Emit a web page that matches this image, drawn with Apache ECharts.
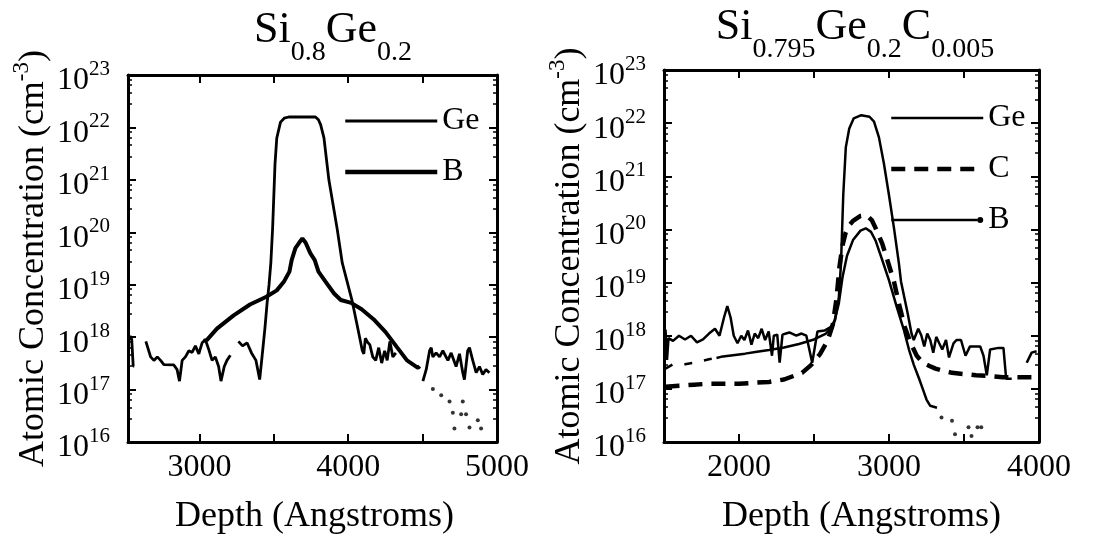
<!DOCTYPE html>
<html><head><meta charset="utf-8">
<script src="https://cdn.jsdelivr.net/npm/echarts@6/dist/echarts.min.js"></script>
<style>html,body{margin:0;padding:0;background:#fff}#c{width:1102px;height:540px}</style>
</head><body><div id="c"></div><script>
// ---------- data (depth in Angstroms, concentration in cm^-3) ----------
const leftXTicks = [3000, 3500, 4000, 4500];
const leftXLabels = [3000, 4000, 5000];
const rightXTicks = [2000, 2500, 3000, 3500];
const rightXLabels = [2000, 3000, 4000];

const geSiGe = [[2527,9e17],[2535,1.05e18],[2545,9e17],[2555,2.8e17],[2562,2.8e17],null,
 [2640,8.3e17],[2672,4.2e17],[2694,3.6e17],[2717,4.2e17],[2739,3.6e17],[2761,3.0e17],[2828,2.95e17],
 [2850,2.4e17],[2866,1.45e17],[2884,3.6e17],[2906,4.2e17],[2929,5.5e17],[2951,5.1e17],[2973,6.8e17],
 [2996,4.8e17],[3018,7.8e17],[3040,8.9e17],[3062,5.9e17],[3085,3.6e17],[3107,4.2e17],[3129,2.75e17],
 [3145,1.45e17],[3167,2.75e17],[3185,3.6e17],[3208,4.5e17],null,
 [3262,8.3e17],[3290,6.8e17],[3320,7.8e17],[3350,5e17],[3380,3.6e17],[3405,1.55e17],[3425,5.5e17],
 [3440,1.45e18],[3455,4.5e18],[3468,1.0e19],[3480,2.6e19],[3492,1.2e20],[3508,2.0e21],[3520,6.3e21],
 [3545,1.26e22],[3570,1.5e22],[3600,1.58e22],[3780,1.58e22],[3800,1.4e22],[3815,1.12e22],[3837,6.3e21],
 [3870,1.0e21],[3925,1.2e20],[3960,2.6e19],[4025,5.1e18],[4065,1.45e18],[4095,5.5e17],[4105,4.8e17],
 [4115,9.5e17],[4130,8e17],[4145,7.2e17],[4165,4.2e17],[4185,3.6e17],[4205,6.3e17],[4225,3.2e17],
 [4245,5.5e17],[4262,3.6e17],[4280,8.3e17],[4300,4.2e17],[4320,5.0e17],null,
 [4502,1.45e17],[4524,2.4e17],[4547,5.5e17],[4558,6.3e17],[4569,4.2e17],[4591,5e17],[4614,4.2e17],
 [4636,5.5e17],[4670,3.6e17],[4692,5e17],[4725,2.75e17],[4748,4.8e17],[4770,2.1e17],[4781,1.55e17],
 [4803,5.5e17],[4815,6.3e17],[4837,3.6e17],[4860,2.1e17],[4882,2.75e17],[4904,1.95e17],[4926,2.4e17],
 [4949,2.1e17]];
const bSiGe = [[3030,8.5e17],[3051,8.9e17],[3118,1.45e18],[3230,2.6e18],[3340,4.2e18],[3450,5.9e18],
 [3520,7.8e18],[3570,1.17e19],[3605,1.78e19],[3620,2.95e19],[3645,5.0e19],[3670,6.3e19],[3692,7.6e19],
 [3714,6.3e19],[3745,4.0e19],[3775,2.95e19],[3800,1.78e19],[3845,1.17e19],[3905,6.8e18],[3950,5.1e18],
 [4020,4.5e18],[4090,3.4e18],[4170,2.2e18],[4250,1.26e18],[4330,6.3e17],[4395,3.6e17],[4469,2.6e17],
 [4480,2.8e17]];
const bSiGeTail = [[4569,1.02e17],[4625,7.8e16],[4681,5.9e16],[4770,5.9e16],[4703,3.6e16],[4759,3.4e16],
 [4792,3.4e16],[4714,1.8e16],[4815,1.9e16],[4871,2.6e16],[4893,1.8e16]];

const geSiGeC = [[1510,1.3e18],[1520,3.5e17],[1530,9e17],[1560,8e17],[1600,1.0e18],[1640,8.5e17],
 [1680,1.0e18],[1720,7.5e17],[1760,8.5e17],[1800,1.1e18],[1840,1.35e18],[1870,1.0e18],[1900,2.2e18],
 [1922,3.6e18],[1944,2.2e18],[1965,1.0e18],[1990,7.2e17],[2015,1.0e18],[2036,8.3e17],[2060,1.25e18],
 [2083,6.8e17],[2105,1.1e18],[2128,9e17],[2151,1.35e18],[2174,8.3e17],[2198,1.2e18],[2220,4.2e17],
 [2232,1.0e18],[2255,1.05e18],[2271,3.1e17],[2290,1.05e18],[2313,1.1e18],[2336,1.15e18],[2382,1.0e18],
 [2417,1.1e18],[2449,1.0e18],[2488,3.1e17],[2523,1.2e18],[2570,1.25e18],[2610,1.45e18],[2640,1.95e18],
 [2665,5e18],[2680,2.3e19],[2695,4.4e20],[2712,3.5e21],[2735,7.9e21],[2765,1.23e22],[2815,1.41e22],
 [2870,1.32e22],[2900,1.07e22],[2933,5.4e21],[2966,1.74e21],[3000,4.4e20],[3033,1.07e20],[3066,2.3e19],
 [3080,1.05e19],[3125,2.6e18],[3150,1.1e18],[3165,8.3e17],[3195,1.35e18],[3215,1.02e18],[3235,6.3e17],
 [3255,1.1e18],[3275,8.3e17],[3295,4.8e17],[3315,9.5e17],[3335,7.2e17],[3355,5.5e17],[3380,8.3e17],
 [3400,3.9e17],[3430,7.2e17],[3450,8.3e17],[3480,8.3e17],[3510,4.2e17],[3540,6.3e17],[3570,6.3e17],
 [3608,6.3e17],[3630,4.2e17],[3652,1.8e17],[3674,5.5e17],[3730,5.9e17],[3763,5.9e17],[3781,1.55e17],
 [3818,1.55e17],null,[3918,3.1e17],[3951,4.8e17],[3984,5.1e17]];
const cSiGeC = [[1510,1.1e17],[1600,1.15e17],[1700,1.2e17],[1800,1.25e17],[1900,1.25e17],[2000,1.25e17],
 [2100,1.3e17],[2200,1.35e17],[2300,1.5e17],[2420,2.0e17],[2480,2.8e17],[2540,4.5e17],[2590,8e17],
 [2625,1.6e18],[2650,5e18],[2670,2e19],[2690,5e19],[2710,8.5e19],[2735,1.2e20],[2760,1.45e20],
 [2810,1.8e20],[2850,1.86e20],[2885,1.5e20],[2910,1.07e20],[2955,5.4e19],[2990,2.6e19],[3033,1.05e19],
 [3066,4e18],[3105,1.45e18],[3145,7.2e17],[3185,4.2e17],[3225,3.1e17],[3270,2.7e17],[3310,2.4e17],
 [3360,2.2e17],[3420,2.0e17],[3500,1.9e17],[3580,1.8e17],[3660,1.75e17],[3760,1.65e17],[3896,1.65e17],
 [3995,1.65e17]];
const bSiGeCLead = [[1510,2.4e17],[1560,2.9e17],[1640,2.9e17],[1720,3.2e17],[1800,3.6e17],[1850,3.8e17]];
const bSiGeC = [[1850,3.8e17],[1880,4.0e17],[1960,4.3e17],[2040,4.6e17],[2120,5.0e17],[2200,5.4e17],
 [2300,6.0e17],[2400,7.0e17],[2500,8.5e17],[2580,1.1e18],[2630,1.6e18],[2665,4e18],[2690,1.26e19],
 [2720,3.2e19],[2760,6.3e19],[2810,9.5e19],[2845,1.05e20],[2880,9e19],[2910,6.2e19],[2956,2.6e19],
 [3000,1.1e19],[3050,3.6e18],[3100,1.26e18],[3133,5.5e17],[3166,2.8e17],[3199,1.6e17],[3225,1.0e17],
 [3250,6.3e16],[3275,4.8e16],[3320,4.4e16]];
const bSiGeCTail = [[3350,2.9e16],[3420,2.5e16],[3440,1.4e16],[3530,1.9e16],[3550,1.3e16],[3590,1.9e16],[3615,1.9e16]];

// ---------- styling ----------
const FONT = '"Liberation Serif","DejaVu Serif",serif';
const K = '#000';
const rich = {
  b: {fontSize: 44, fontFamily: FONT, fontWeight: 'normal', color: K, verticalAlign: 'top', lineHeight: 48},
  s: {fontSize: 28, fontFamily: FONT, fontWeight: 'normal', color: K, verticalAlign: 'top', lineHeight: 28, padding: [31, 0, 0, 0]}
};
const powRich = {
  b: {fontSize: 32, fontFamily: FONT, color: K, verticalAlign: 'top', lineHeight: 32, padding: [6, 0, 0, 0]},
  s: {fontSize: 21, fontFamily: FONT, color: K, verticalAlign: 'top', lineHeight: 21}
};
const nameRich = {
  a: {fontSize: 36, fontFamily: FONT, color: K, verticalAlign: 'top', lineHeight: 38, padding: [6, 0, 0, 0]},
  p: {fontSize: 23, fontFamily: FONT, color: K, verticalAlign: 'top', lineHeight: 23}
};
function powFmt(v) { return '{b|10}{s|' + Math.round(Math.log10(v)) + '}'; }

function xAx(grid, min, max, ticks, labels, top, shift) {
  return {
    type: 'value', gridIndex: grid, min: min, max: max, position: top ? 'top' : 'bottom',
    axisLine: {show: true, onZero: false, lineStyle: {color: K, width: 3}},
    axisTick: {show: true, inside: true, length: 8, customValues: ticks, lineStyle: {color: K, width: 2}},
    axisLabel: top ? {show: false} : {show: true, customValues: labels, formatter: v => String(v),
      fontSize: 32, fontFamily: FONT, color: K, margin: 10},
    splitLine: {show: false},
    name: top ? '' : 'Depth (Angstroms)', nameLocation: 'middle', nameGap: 57,
    nameTextStyle: {fontSize: 36, fontFamily: FONT, color: K, padding: [0, 0, 0, shift || 0]}
  };
}
function yAx(grid, right) {
  return {
    type: 'log', logBase: 10, gridIndex: grid, min: 1e16, max: 1e23, splitNumber: 7,
    position: right ? 'right' : 'left',
    axisLine: {show: true, onZero: false, lineStyle: {color: K, width: 3}},
    axisTick: {show: true, inside: true, length: 8, lineStyle: {color: K, width: 2}},
    minorTick: {show: true, splitNumber: 5, length: 4, lineStyle: {color: K, width: 1.5}},
    axisLabel: right ? {show: false} : {show: true, formatter: powFmt, rich: powRich, margin: 18, align: 'right'},
    splitLine: {show: false}, minorSplitLine: {show: false},
    name: right ? '' : '{a|Atomic Concentration (cm}{p|-3}{a|)}',
    nameLocation: 'middle', nameRotate: 90, nameGap: 80,
    nameTextStyle: {rich: nameRich}
  };
}
function line(name, data, xi, yi, width, type) {
  return {name: name, type: 'line', data: data, xAxisIndex: xi, yAxisIndex: yi, symbol: 'none',
    connectNulls: false, animation: false, lineStyle: {color: K, width: width, type: type || 'solid'},
    itemStyle: {color: K}};
}
const hideSym = {opacity: 0};
const legendText = {fontSize: 32, fontFamily: FONT, color: K};

const option = {
  backgroundColor: '#fff',
  animation: false,
  title: [
    {text: '{b|Si}{s|0.8}{b|Ge}{s|0.2}', left: 328, top: 3, textAlign: 'center', textStyle: {rich: rich}},
    {text: '{b|Si}{s|0.795}{b|Ge}{s|0.2}{b|C}{s|0.005}', left: 850, top: 0, textAlign: 'center', textStyle: {rich: rich}}
  ],
  legend: [
    {data: [{name: 'Ge', itemStyle: hideSym, lineStyle: {width: 2.8}},
        {name: 'B', itemStyle: hideSym, lineStyle: {width: 4.5}}],
      orient: 'vertical', left: 338, top: 100, itemWidth: 92, itemHeight: 8, itemGap: 19,
      selectedMode: false, textStyle: legendText},
    {data: [{name: 'Ge ', itemStyle: hideSym, lineStyle: {width: 2.5}},
        {name: 'C', itemStyle: hideSym, lineStyle: {width: 4.5, type: [14, 9]}},
        {name: 'B ', icon: 'path://M0,1.75 L86,1.75 L86,4.25 L0,4.25 Z M86,3 a3,3 0 1,0 6,0 a3,3 0 1,0 -6,0 Z', itemStyle: {opacity: 1, color: K}}],
      orient: 'vertical', left: 884, top: 97, itemWidth: 92, itemHeight: 6, itemGap: 19,
      selectedMode: false, formatter: n => n.trim(), textStyle: legendText}
  ],
  grid: [
    {left: 128, top: 75, width: 369, height: 381, containLabel: false},
    {left: 664, top: 70, width: 375, height: 382, containLabel: false}
  ],
  xAxis: [
    xAx(0, 2520, 5000, leftXTicks, leftXLabels, false, 4),
    xAx(0, 2520, 5000, leftXTicks, leftXLabels, true),
    xAx(1, 1500, 4000, rightXTicks, rightXLabels, false, 20),
    xAx(1, 1500, 4000, rightXTicks, rightXLabels, true)
  ],
  yAxis: [yAx(0, false), yAx(0, true), yAx(1, false), yAx(1, true)],
  series: [
    line('Ge', geSiGe, 0, 0, 2.8),
    line('B', bSiGe, 0, 0, 4),
    {type: 'scatter', data: bSiGeTail, xAxisIndex: 0, yAxisIndex: 0, symbolSize: 4, itemStyle: {color: K}, animation: false},
    line('Ge ', geSiGeC, 2, 2, 2.5),
    line('C', cSiGeC, 2, 2, 4.5, [14, 9]),
    line('B ', bSiGeC, 2, 2, 2.5),
    line('', bSiGeCLead, 2, 2, 2.5, [8, 12]),
    {type: 'scatter', data: bSiGeCTail, xAxisIndex: 2, yAxisIndex: 2, symbolSize: 4, itemStyle: {color: K}, animation: false}
  ]
};
const chart = echarts.init(document.getElementById('c'), null, {renderer: 'canvas'});
chart.setOption(option);
</script></body></html>
